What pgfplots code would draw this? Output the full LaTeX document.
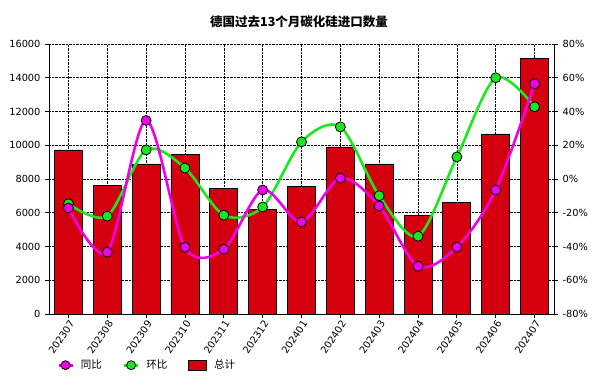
\documentclass[border=0pt]{standalone}
\usepackage{pgfplots}
\pgfplotsset{compat=1.18}
\usepackage{fontspec}
\setmainfont{DejaVu Sans}
\newfontfamily\cjk{Noto Sans CJK SC}
\definecolor{barred}{RGB}{212,0,16}
\definecolor{mag}{RGB}{240,0,230}
\definecolor{grn}{RGB}{30,230,30}
\pgfplotsset{
  linelegend/.style={legend image code/.code={\draw[##1, mark repeat=2, mark phase=2] plot coordinates {(0pt,0pt) (7pt,0pt) (14pt,0pt)};}},
  boxlegend/.style={legend image code/.code={\draw[##1] (0pt,-5pt) rectangle (18pt,5pt);}},
}
\pgfplotstableread{
x total
0 9720
1 7600
2 8890
3 9480
4 7460
5 6220
6 7580
7 9900
8 8890
9 5860
10 6630
11 10670
12 15170
}\totaltab
\pgfplotstableread{
x yoy mom
0 -17.2 -14.7
1 -43.4 -22.0
2 34.7 17.2
3 -40.4 6.5
4 -41.6 -21.4
5 -6.5 -16.6
6 -25.5 22.0
7 0.6 30.9
8 -16.0 -9.9
9 -51.7 -33.9
10 -40.4 13.1
11 -6.5 60.0
12 56.4 42.8
}\ratetab
\begin{document}
\begin{tikzpicture}
\useasboundingbox (0,0) rectangle (611pt,384pt);
\pgfplotsset{
  common/.style={
    scale only axis, width=505pt, height=270pt,
    at={(49pt,70pt)}, anchor=south west,
    xmin=-0.5, xmax=12.5,
    tick align=outside, major tick length=4pt,
    tick style={black, line width=0.8pt},
    axis line style={black, line width=0.8pt},
    tick label style={font=\fontsize{9.8}{11}\selectfont},
    /pgf/number format/assume math mode=true,
    /pgf/number format/1000 sep={},
    scaled y ticks=false,
  }
}
\begin{axis}[common,
  ymin=0, ymax=16000, ytick={0,2000,...,16000},
  axis y line*=left, axis x line*=bottom,
  xtick={0,...,12},
  xticklabels={202307,202308,202309,202310,202311,202312,202401,202402,202403,202404,202405,202406,202407},
  x tick label style={rotate=56, anchor=north east, inner sep=1pt},
  grid=major, grid style={densely dotted, black, line width=0.6pt},
  yticklabel style={xshift=-1pt},
]
\addplot[ybar, bar width=28pt, fill=barred, draw=black, line width=0.8pt] table[x=x, y=total] {\totaltab};
\end{axis}
\begin{axis}[common,
  ymin=-80, ymax=80, ytick={-80,-60,...,80},
  axis y line*=right, axis x line=none,
  yticklabel={\pgfmathprintnumber{\tick}\%},
  yticklabel style={xshift=1pt},
  legend style={at={(rel axis cs:0.01,-0.155)}, anchor=north west, draw=none, fill=none,
    legend columns=3, font=\cjk\fontsize{10.5}{12}\selectfont,
    /tikz/every odd column/.append style={column sep=5pt},
    /tikz/every even column/.append style={column sep=19pt}},
  legend cell align=left,
]
\addplot[grn, line width=2.6pt, smooth, mark=*, mark size=5pt,
  mark options={fill=grn, draw=black, line width=0.8pt}, forget plot] table[x=x, y=mom] {\ratetab};
\addplot[mag, line width=2.6pt, smooth, mark=*, mark size=5pt,
  mark options={fill=mag, draw=black, line width=0.8pt}, forget plot] table[x=x, y=yoy] {\ratetab};
\addlegendimage{mag, line width=2.6pt, mark=*, mark size=4.5pt, mark options={fill=mag, draw=black, line width=0.8pt}, linelegend}
\addlegendentry{同比}
\addlegendimage{grn, line width=2.6pt, mark=*, mark size=4.5pt, mark options={fill=grn, draw=black, line width=0.8pt}, linelegend}
\addlegendentry{环比}
\addlegendimage{fill=barred, draw=black, line width=0.8pt, boxlegend}
\addlegendentry{总计}
\end{axis}
\node[font=\cjk\bfseries\fontsize{12.5}{14}\selectfont] at (299pt,362pt) {德国过去13个月碳化硅进口数量};
\end{tikzpicture}
\end{document}
